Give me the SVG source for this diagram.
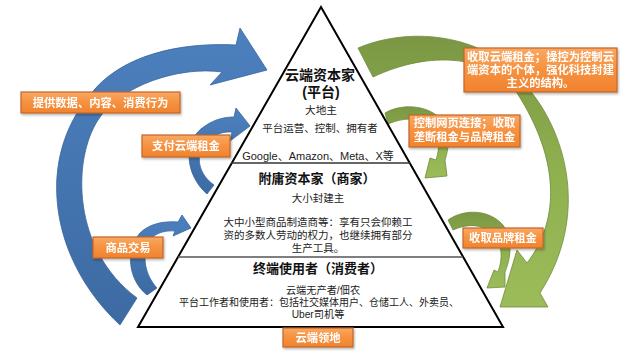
<svg xmlns="http://www.w3.org/2000/svg" width="640" height="356" viewBox="0 0 640 356">
<style>
.t{font-family:"Liberation Sans","Noto Sans CJK SC",sans-serif;fill:#222;text-anchor:middle}
.h{font-weight:bold;fill:#111}
.lb{font-family:"Liberation Sans","Noto Sans CJK SC",sans-serif;fill:#fff;font-weight:bold;font-size:11.3px;text-anchor:middle}
.box{fill:url(#og);stroke:#C4662A;stroke-width:1.2}
.blue{fill:url(#bg);stroke:#3A679E;stroke-width:0.8}
.green{fill:url(#gg);stroke:#6E8B3A;stroke-width:0.8}
</style>
<defs>
<linearGradient id="og" x1="0" y1="0" x2="0" y2="1">
<stop offset="0" stop-color="#F9A865"/><stop offset="0.5" stop-color="#F6913F"/><stop offset="1" stop-color="#F0832F"/>
</linearGradient>
<linearGradient id="bg" x1="0" y1="0" x2="0" y2="1">
<stop offset="0" stop-color="#4C80BE"/><stop offset="1" stop-color="#3D6AA2"/>
</linearGradient>
<linearGradient id="gg" x1="0" y1="0" x2="0" y2="1">
<stop offset="0" stop-color="#7B9744"/><stop offset="0.5" stop-color="#8FB04F"/><stop offset="1" stop-color="#9CBC5A"/>
</linearGradient>
<filter id="sh" x="-10%" y="-10%" width="130%" height="140%">
<feDropShadow dx="1" dy="1.5" stdDeviation="1" flood-color="#000" flood-opacity="0.3"/>
</filter>
</defs>
<rect width="640" height="356" fill="#fff"/>
<g id="connectors">
<path class="blue" d="M120,325 C50,260 35,160 90,95 C120,55 180,42 236,45 L240,28 L267,70 L210,85 L222,72 C180,66 120,85 98,120 C72,160 72,250 137,298 Z"/>
<path class="blue" d="M207,194 C185,175 182,140 205,126 C215,119 225,117 234,117 L236,108 L250,126 L230,141 L232,132 C220,131 208,137 202,148 C196,160 200,175 214,185 Z"/>
<path class="blue" d="M147,295 C128,280 125,250 140,233 C150,223 165,221 178,222 L182,215 L191,228 L173,236 L175,231 C163,230 153,234 148,243 C142,257 145,275 157,288 Z"/>
<path class="green" d="M358,48 C420,22 500,40 532,93 C565,135 590,215 540,293 L548,307 L500,307 L517,250 L527,263 C560,220 560,160 517,93 C490,55 430,50 373,77 Z"/>
<path class="green" d="M385,113 C400,104 425,104 440,118 C450,128 450,145 445,160 L447,176 L425,178 L430,158 L436,160 C440,148 440,135 432,127 C420,116 402,118 388,124 Z"/>
<path class="green" d="M448,220 C465,208 490,210 503,225 C512,238 512,255 505,272 L505,287 L487,288 L494,270 L498,272 C503,258 502,245 495,236 C485,224 468,223 453,230 Z"/>
</g>
<g id="pyramid">
<path d="M321,7 L503,327 L138,327 Z" fill="#fff" stroke="#000" stroke-width="2" stroke-linejoin="miter"/>
<line x1="231" y1="163" x2="410" y2="163" stroke="#333" stroke-width="1.3"/>
<line x1="178" y1="257" x2="463" y2="257" stroke="#555" stroke-width="1.3"/>
</g>
<g id="top-tier">
<text class="t h" x="320" y="80" font-size="14">云端资本家</text>
<text class="t h" x="321" y="97" font-size="14">(平台)</text>
<text class="t" x="321" y="114" font-size="10.7">大地主</text>
<text class="t" x="320" y="132" font-size="10.5">平台运营、控制、拥有者</text>
<text class="t" x="318" y="160" font-size="11">Google、Amazon、Meta、X等</text>
</g>
<g id="middle-tier">
<text class="t h" x="317" y="183" font-size="13">附庸资本家（商家）</text>
<text class="t" x="318" y="202" font-size="10.5">大小封建主</text>
<text class="t" x="318" y="226" font-size="10.5">大中小型商品制造商等：享有只会仰赖工</text>
<text class="t" x="318" y="239" font-size="10.5">资的多数人劳动的权力，也继续拥有部分</text>
<text class="t" x="318" y="252" font-size="10.5">生产工具。</text>
</g>
<g id="bottom-tier">
<text class="t h" x="318" y="273" font-size="13">终端使用者（消费者）</text>
<text class="t" x="323" y="294" font-size="10.2">云端无产者/佃农</text>
<text class="t" x="319" y="306" font-size="10">平台工作者和使用者：包括社交媒体用户、仓储工人、外卖员、</text>
<text class="t" x="318" y="318" font-size="10.2">Uber司机等</text>
</g>
<g id="label-data" filter="url(#sh)">
<rect class="box" x="21" y="92" width="159" height="21"/>
<text class="lb" x="100.5" y="107">提供数据、内容、消费行为</text>
</g>
<g id="label-rent" filter="url(#sh)">
<rect class="box" x="142" y="135" width="88" height="22"/>
<text class="lb" x="186" y="150">支付云端租金</text>
</g>
<g id="label-trade" filter="url(#sh)">
<rect class="box" x="93" y="237" width="70" height="21"/>
<text class="lb" x="128" y="252">商品交易</text>
</g>
<g id="label-cloudrent" filter="url(#sh)">
<rect class="box" x="464" y="48" width="153" height="44"/>
<text class="lb" x="540.5" y="61" font-size="10.8">收取云端租金；操控为控制云</text>
<text class="lb" x="540.5" y="74" font-size="10.8">端资本的个体，强化科技封建</text>
<text class="lb" x="540.5" y="87" font-size="10.8">主义的结构。</text>
</g>
<g id="label-control" filter="url(#sh)">
<rect class="box" x="409" y="115" width="111" height="32"/>
<text class="lb" x="464.5" y="127" font-size="10.8">控制网页连接；收取</text>
<text class="lb" x="464.5" y="141" font-size="10.8">垄断租金与品牌租金</text>
</g>
<g id="label-brand" filter="url(#sh)">
<rect class="box" x="463" y="228" width="80" height="20"/>
<text class="lb" x="503" y="242" font-size="10.8">收取品牌租金</text>
</g>
<g id="label-territory" filter="url(#sh)">
<rect class="box" x="283" y="328" width="70" height="19"/>
<text class="lb" x="318" y="342">云端领地</text>
</g>
</svg>
